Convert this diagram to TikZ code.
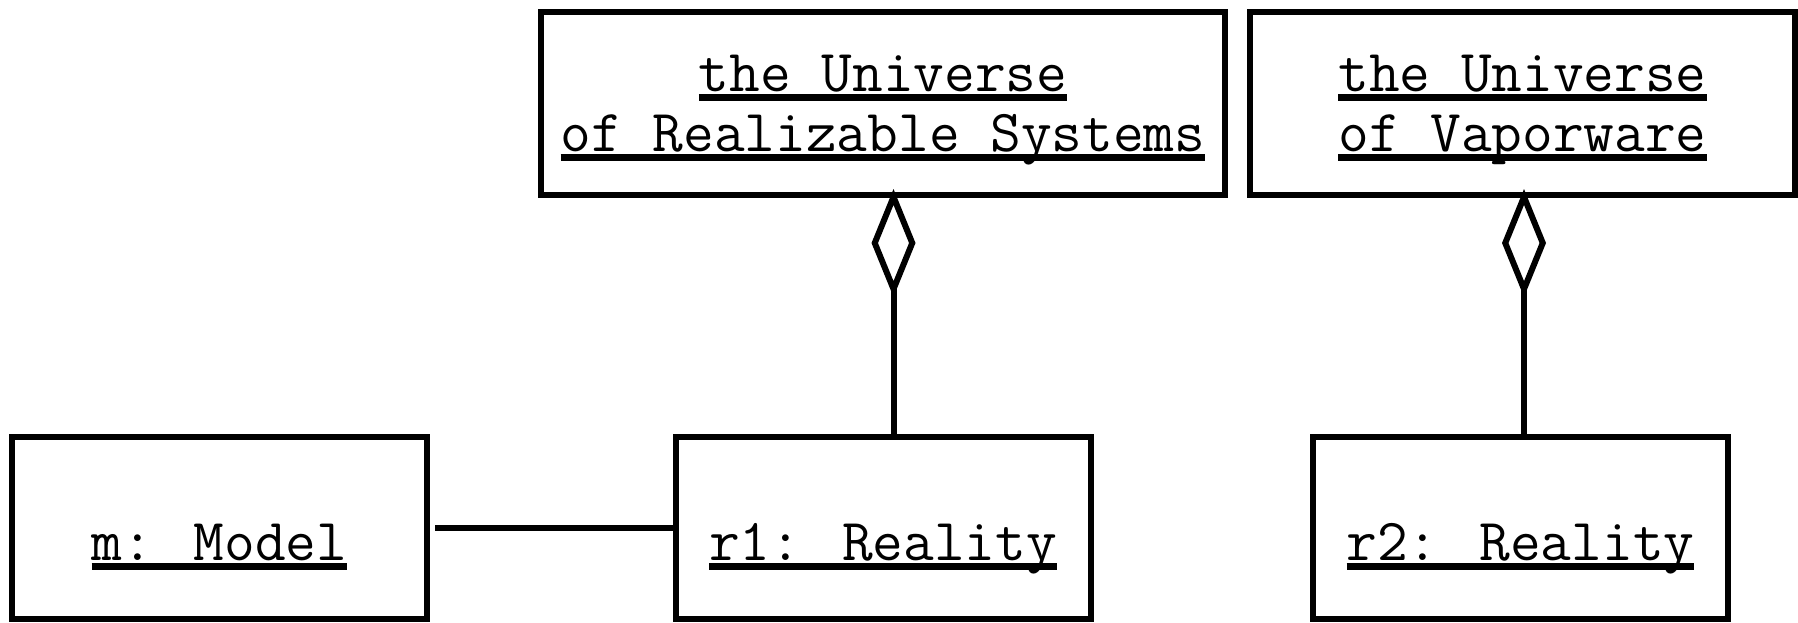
\documentclass[tikz,border=0pt]{standalone}
\usepackage{fontspec}
\usepackage{tikz}
\usetikzlibrary{arrows.meta,positioning}
\newsavebox{\objbox}
\newcommand{\objname}[1]{\sbox{\objbox}{#1}\rlap{\smash{\vrule height -1.3pt depth 4.8pt width \wd\objbox}}\usebox{\objbox}}

\begin{document}
\begin{tikzpicture}[
    x=0.5pt, y=-0.5pt,
    obj/.style={rectangle, draw=black, line width=3pt, inner sep=0pt, outer sep=0pt, align=center, font=\ttfamily\fontsize{29.8pt}{29.6pt}\selectfont},
    topobj/.style={obj, minimum height=91.75pt, text depth=-3pt},
    lowobj/.style={obj, minimum height=91pt, minimum width=207.5pt, text height=32pt, text depth=0pt},
    assoc/.style={line width=3pt},
    aggr/.style={line width=3pt, shorten >=-3pt, -{Diamond[open, length=54pt, width=22pt]}}
]
\useasboundingbox (0,0) rectangle (1798,622);

\node[topobj, minimum width=342pt] (real) at (883,103.25) {\objname{the Universe}\\\objname{of Realizable Systems}};
\node[topobj, minimum width=272.5pt, right=12.5pt of real] (vapor) {\objname{the Universe}\\\objname{of Vaporware}};
\node[lowobj, below=121pt of real] (r1) {\objname{r1: Reality}};
\node[lowobj, left=124.25pt of r1] (model) {\objname{m: Model}};
\node[lowobj, right=111.25pt of r1] (r2) {\objname{r2: Reality}};

\draw[assoc, shorten <=4pt] (model.east) -- (r1.west);
\draw[aggr] ([xshift=5.25pt]r1.north) -- ([xshift=5.25pt]real.south);
\draw[aggr] ([xshift=0.75pt]vapor.south |- r2.north) -- ([xshift=0.75pt]vapor.south);

\end{tikzpicture}
\end{document}
